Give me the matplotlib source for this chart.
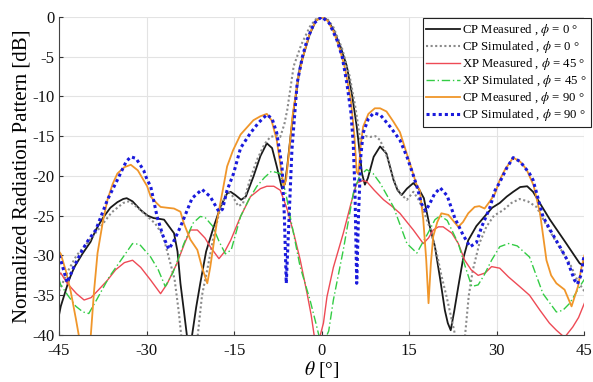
import matplotlib
matplotlib.use("Agg")
import matplotlib.pyplot as plt

# ---- data ----
cp0_meas_t = [-45, -44.7, -43.3, -42.4, -41, -39.6, -38.7, -37.5, -36.2, -35.0, -34.0, -33.4, -32.4, -31, -29.8, -28.8, -27.8, -27.0, -26.2, -25.3, -24.7, -24.2, -23.6, -23.1, -22.6, -22.2, -21.5, -20.8, -19.8, -18.5, -17.3, -16.2, -15.6, -14.8, -13.8, -13.0, -11.7, -10.5, -9.4, -8.5, -7.7, -6.8, -6.3, -5.9, -5.3, -4.8, -3.7, -2.0, -1.0, 0, 1.0, 2.0, 3.2, 4.3, 5.2, 6.0, 6.5, 6.9, 7.4, 7.9, 8.9, 10.0, 11.1, 12.3, 13.0, 13.7, 14.6, 15.7, 16.6, 17.5, 18.4, 19.4, 20.3, 21.1, 21.6, 22.1, 22.7, 23.4, 24.2, 25.1, 26.5, 27.9, 29.2, 30.5, 31.7, 32.8, 34.0, 35.2, 36.2, 37.6, 39.1, 40.5, 41.9, 43.0, 44.2, 44.7, 45]
cp0_meas_v = [-37.5, -36.4, -33.1, -31.5, -29.8, -28.3, -26.8, -25.3, -24.0, -23.3, -22.9, -22.8, -23.2, -24.3, -25.0, -25.3, -25.4, -25.5, -26.3, -27.2, -29.5, -33.5, -37.0, -40.0, -41.0, -40.0, -36.5, -33.5, -29.5, -26.4, -23.8, -22.2, -22.0, -22.4, -23.0, -22.6, -20.1, -17.5, -15.9, -16.5, -18.8, -21.6, -21.0, -18.8, -14.8, -11.7, -6.2, -2.1, -0.5, 0, -0.4, -1.6, -3.7, -6.2, -9.8, -13.8, -17.0, -19.7, -21.1, -20.3, -17.6, -16.3, -17.2, -20.5, -21.8, -22.4, -21.6, -20.9, -21.6, -22.8, -26.0, -28.9, -33.0, -36.9, -38.5, -39.4, -37.0, -33.9, -30.5, -28.1, -26.3, -25.1, -24.0, -23.4, -22.6, -22.0, -21.4, -21.3, -22.0, -23.7, -25.5, -27.0, -28.5, -29.7, -31.0, -31.2, -30.5]

cp0_sim_t = [-45, -43.5, -42, -40, -38, -36, -34, -33, -31.5, -30, -28.5, -27.2, -26.2, -25.2, -24.5, -24.0, -23.0, -21.3, -20.5, -19.5, -18.5, -17.5, -16.2, -15.3, -14.3, -13.5, -12.3, -11.1, -9.8, -8.8, -7.6, -7.1, -6.4, -5.9, -4.8, -3.5, -2.0, -1.0, 0, 1.0, 2.0, 3.5, 4.8, 5.8, 6.6, 7.5, 8.3, 9.2, 10.0, 10.9, 11.7, 12.6, 13.4, 14.6, 15.7, 16.6, 17.5, 18.5, 19.7, 20.5, 21.4, 22.4, 23.0, 24.0, 24.5, 25.2, 25.9, 27.0, 28.2, 29.5, 31.1, 32.5, 33.9, 35.3, 36.8, 38.2, 39.6, 41.0, 42.5, 43.9, 45]
cp0_sim_v = [-34.5, -32.0, -30.0, -28.3, -26.5, -24.6, -23.4, -23.2, -24.0, -25.0, -26.0, -27.5, -30.2, -33.0, -37.0, -40.5, -42.0, -40.5, -35.0, -31.4, -27.5, -24.5, -21.8, -22.5, -23.8, -23.5, -20.5, -18.0, -16.0, -15.1, -14.9, -15.1, -13.5, -11.7, -6.2, -3.5, -1.2, -0.3, 0, -0.3, -1.3, -4.0, -7.5, -11.5, -15.5, -15.0, -15.1, -15.0, -15.5, -17.0, -18.8, -21.0, -22.2, -23.0, -22.0, -23.0, -24.5, -26.5, -29.7, -32.5, -35.2, -38.5, -40.5, -42.0, -40.5, -35.0, -31.8, -28.5, -26.4, -25.0, -24.3, -23.4, -22.9, -23.2, -23.9, -25.8, -27.6, -29.3, -31.0, -33.3, -34.5]

xp45_meas_t = [-45, -44.7, -43.6, -42.0, -40.7, -39.5, -38.2, -36.8, -35.3, -33.8, -32.4, -31.0, -29.3, -27.6, -26.5, -24.8, -23.5, -22.5, -21.3, -20.0, -19.1, -17.6, -16.6, -15.6, -13.9, -12.2, -10.5, -9.4, -8.2, -7.1, -6.0, -4.8, -3.7, -2.5, -1.8, -1.3, -0.6, 0.3, 0.9, 2.0, 3.7, 5.0, 6.0, 7.0, 7.7, 9.0, 10.6, 12.0, 13.4, 14.6, 15.7, 16.5, 17.4, 18.3, 19.1, 20.0, 20.8, 22.3, 23.4, 24.5, 25.6, 26.8, 28.0, 29.1, 30.5, 32.0, 33.9, 35.6, 37.4, 39.0, 40.2, 41.6, 43.0, 44.0, 45]
xp45_meas_v = [-32.5, -32.2, -33.5, -34.8, -35.6, -35.3, -34.3, -33.2, -31.8, -30.9, -30.6, -31.5, -33.1, -34.8, -33.6, -31.0, -28.5, -26.8, -26.8, -27.8, -28.9, -30.4, -29.5, -28.1, -25.1, -22.6, -21.6, -21.3, -21.3, -21.8, -24.0, -27.2, -30.5, -34.8, -37.5, -40.0, -41.0, -38.5, -35.2, -31.5, -27.2, -23.5, -20.9, -20.6, -20.7, -21.8, -23.0, -23.8, -24.7, -25.8, -26.8, -27.6, -28.5, -27.8, -26.8, -26.4, -26.4, -27.2, -28.5, -30.6, -31.8, -32.5, -32.2, -31.4, -31.6, -32.7, -33.9, -35.0, -36.9, -38.5, -39.4, -40.3, -39.0, -37.8, -36.0]

xp45_sim_t = [-45, -44.7, -43.5, -42.1, -40.9, -39.9, -38.5, -36.4, -34.4, -32.4, -31.2, -29.3, -28.0, -26.8, -25.5, -23.6, -22.0, -20.8, -20.0, -18.7, -17.6, -16.5, -15.5, -13.9, -12.5, -11.1, -9.8, -8.6, -7.1, -6.2, -5.4, -3.7, -2.0, -1.0, 0.0, 1.2, 2.0, 3.7, 5.4, 6.5, 7.7, 8.8, 10.0, 12.3, 14.6, 16.3, 17.2, 18.2, 19.4, 20.3, 21.5, 23.4, 24.5, 25.7, 26.8, 27.8, 29.1, 30.5, 32.0, 33.5, 35.6, 37.9, 40.2, 41.3, 42.5, 44.2, 45]
xp45_sim_v = [-33.0, -33.7, -35.0, -36.4, -37.1, -37.3, -35.5, -32.7, -30.6, -28.5, -28.6, -30.2, -31.8, -33.9, -32.2, -28.5, -25.9, -25.1, -25.2, -26.3, -28.2, -29.8, -29.3, -25.1, -23.0, -21.3, -20.2, -19.4, -19.7, -22.0, -25.1, -31.4, -35.6, -38.5, -41.5, -39.5, -35.6, -29.3, -22.2, -20.0, -19.2, -19.7, -20.9, -23.9, -28.5, -29.7, -28.5, -27.2, -25.5, -25.0, -25.6, -28.5, -31.2, -33.9, -33.7, -32.5, -30.6, -28.9, -28.5, -28.8, -30.2, -34.8, -37.1, -36.9, -36.0, -33.9, -33.0]

cp90_meas_t = [-45, -44.7, -43.8, -43.0, -42.1, -41.5, -41.0, -40.0, -39.6, -39.0, -38.4, -37.5, -36.7, -35.8, -35.0, -33.8, -32.7, -31.5, -29.9, -29.3, -28.3, -27.6, -26.5, -25.3, -24.2, -23.6, -22.5, -21.3, -20.5, -19.6, -19.1, -17.9, -17.0, -16.2, -15.2, -13.9, -11.7, -10.5, -9.4, -8.6, -7.7, -7.0, -6.5, -6.1, -5.6, -5.0, -4.0, -3.0, -2.0, -1.0, 0, 1.0, 2.0, 3.0, 4.0, 5.0, 5.6, 6.0, 6.3, 6.7, 7.1, 8.0, 9.1, 10.0, 11.1, 12.3, 13.4, 15.1, 16.2, 16.8, 17.4, 17.9, 18.3, 18.7, 19.1, 19.8, 20.5, 21.7, 22.6, 23.4, 24.2, 25.1, 26.2, 27.0, 27.9, 28.8, 29.7, 30.5, 31.4, 32.8, 34.0, 35.1, 36.3, 37.4, 38.5, 39.3, 40.2, 41.6, 42.8, 43.9, 44.5, 45]
cp90_meas_v = [-29.5, -29.8, -32.0, -34.5, -38.0, -40.5, -42.0, -42.0, -40.5, -34.5, -29.7, -25.8, -23.0, -21.0, -19.7, -18.9, -18.6, -19.3, -21.3, -22.6, -23.4, -23.9, -24.0, -24.1, -24.5, -26.0, -28.0, -29.3, -31.5, -33.5, -31.5, -25.5, -22.0, -18.8, -16.8, -14.8, -13.0, -12.5, -12.2, -13.0, -15.5, -19.0, -21.3, -20.5, -17.0, -12.5, -7.5, -4.5, -2.0, -0.5, 0, -0.5, -1.8, -3.8, -6.5, -10.5, -15.0, -19.5, -19.8, -16.0, -13.8, -12.2, -11.5, -11.5, -11.9, -13.2, -14.5, -18.4, -21.0, -21.8, -25.5, -30.5, -36.0, -31.0, -27.6, -25.8, -24.7, -24.9, -25.7, -26.4, -25.8, -24.7, -23.9, -23.8, -24.1, -23.2, -22.2, -20.5, -19.2, -17.7, -18.2, -19.2, -21.2, -24.7, -30.6, -32.5, -33.5, -34.3, -36.4, -33.9, -31.5, -30.0]

cp90_sim_t = [-45, -44.7, -43.6, -42.5, -41.0, -40.0, -38.7, -36.7, -35.0, -33.5, -32.7, -31.8, -30.5, -29.9, -29.3, -28.2, -27.2, -26.2, -25.4, -24.2, -22.2, -20.5, -19.1, -17.6, -17.0, -16.2, -15.1, -13.9, -12.2, -10.8, -9.4, -8.5, -7.7, -6.8, -6.4, -6.07, -5.7, -5.1, -4.2, -3.3, -2.5, -1.3, 0, 1.3, 2.6, 3.5, 4.3, 5.0, 5.4, 5.7, 6.0, 6.3, 6.7, 7.1, 8.0, 8.9, 10.0, 11.7, 13.4, 14.6, 15.5, 16.3, 17.1, 17.8, 18.5, 19.3, 20.3, 21.5, 22.8, 24.2, 25.4, 26.5, 27.4, 28.8, 29.7, 30.5, 31.7, 32.8, 34.0, 35.6, 36.2, 37.9, 39.3, 40.8, 42.0, 43.3, 43.8, 44.4, 44.8, 45]
cp90_sim_v = [-30.0, -30.6, -33.4, -31.5, -29.3, -28.1, -26.8, -23.0, -20.5, -18.2, -17.6, -17.8, -19.3, -20.5, -21.3, -25.1, -27.5, -29.2, -28.3, -26.4, -22.8, -21.7, -22.6, -24.5, -24.2, -21.8, -19.7, -16.5, -14.6, -13.3, -12.3, -12.8, -14.6, -18.8, -25.0, -33.5, -27.2, -16.7, -8.3, -5.0, -2.9, -0.8, 0, -0.8, -2.9, -5.0, -8.3, -12.0, -15.9, -22.0, -33.5, -25.0, -17.5, -14.6, -12.8, -12.1, -12.3, -13.8, -15.5, -17.6, -19.5, -21.3, -23.5, -24.4, -23.5, -22.3, -21.5, -22.5, -25.3, -27.4, -28.9, -28.4, -26.4, -24.0, -21.8, -20.8, -19.0, -17.7, -18.2, -19.7, -20.5, -25.1, -27.0, -28.9, -30.5, -33.1, -33.6, -32.5, -30.6, -30.0]

series = [
    (cp0_meas_t, cp0_meas_v, "CP Measured , $\\phi$ = 0 \u00b0", dict(color="#1a1a1a", ls="-", lw=1.3)),
    (cp0_sim_t, cp0_sim_v, "CP Simulated , $\\phi$ = 0 \u00b0", dict(color="#8a8a8a", ls=(0, (1, 1.2)), lw=1.5)),
    (xp45_meas_t, xp45_meas_v, "XP Measured , $\\phi$ = 45 \u00b0", dict(color="#ee4a55", ls="-", lw=1.0)),
    (xp45_sim_t, xp45_sim_v, "XP Simulated , $\\phi$ = 45 \u00b0", dict(color="#33cc44", ls=(0, (6, 2, 1, 2)), lw=1.0)),
    (cp90_meas_t, cp90_meas_v, "CP Measured , $\\phi$ = 90 \u00b0", dict(color="#f0962a", ls="-", lw=1.3)),
    (cp90_sim_t, cp90_sim_v, "CP Simulated , $\\phi$ = 90 \u00b0", dict(color="#1a1adc", ls=(0, (1, 1)), lw=2.2)),
]

x_ticks = [-45, -30, -15, 0, 15, 30, 45]
y_ticks = [0, -5, -10, -15, -20, -25, -30, -35, -40]

plt.rcParams["font.family"] = ["Liberation Serif", "DejaVu Serif"]
plt.rcParams["mathtext.fontset"] = "stix"
plt.rcParams["axes.unicode_minus"] = False

fig = plt.figure(figsize=(5.93, 3.82), dpi=100)
ax = fig.add_axes([0.0995, 0.123, 0.886, 0.833])

for t, v, lab, st in series:
    ax.plot(t, v, label=lab, **st)

ax.set_xlim(-45, 45)
ax.set_ylim(-40, 0)
ax.set_xticks(x_ticks)
ax.set_yticks(y_ticks)
ax.tick_params(direction="in", labelsize=12, length=3, colors="#333333", labelcolor="#111111")
ax.tick_params(axis="x", pad=6)
ax.tick_params(axis="y", pad=3)
ax.grid(True, color="#e3e3e3", lw=0.8)
ax.set_axisbelow(True)
for s in ["top", "right"]:
    ax.spines[s].set_visible(False)
for s in ["left", "bottom"]:
    ax.spines[s].set_color("#444444")
    ax.spines[s].set_linewidth(0.8)

ax.set_xlabel("$\\theta$ [\u00b0]", fontsize=14, labelpad=0)
ax.set_ylabel("Normalized Radiation Pattern [dB]", fontsize=15, labelpad=1)

leg = ax.legend(loc="upper right", bbox_to_anchor=(1.012, 0.995), fontsize=9.2, frameon=True,
                fancybox=False, edgecolor="#222222", framealpha=1, handlelength=2.6,
                handletextpad=0.2, labelspacing=0.08, borderpad=0.3, borderaxespad=0.0)
leg.get_frame().set_linewidth(0.8)

fig.savefig("out.png", dpi=100)
